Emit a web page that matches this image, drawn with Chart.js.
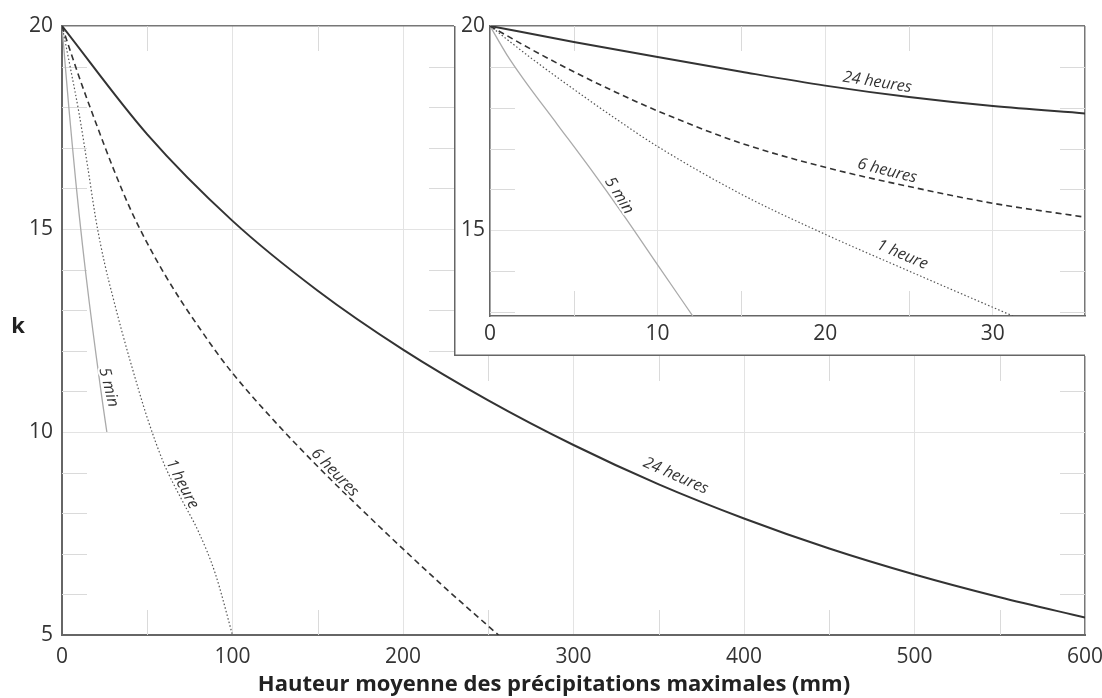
<!DOCTYPE html>
<html><head><meta charset="utf-8">
<script src="https://cdn.jsdelivr.net/npm/chart.js@4.4.1/dist/chart.umd.min.js"></script>
<style>
html,body{margin:0;padding:0;background:#fff;}
#wrap{position:relative;width:1102px;height:698px;overflow:hidden;}
#main{position:absolute;left:0;top:0;}
#inset{position:absolute;left:454px;top:0;}
</style></head><body>
<div id="wrap">
<canvas id="main" width="1102" height="698"></canvas>
<canvas id="inset" width="648" height="356"></canvas>
</div>
<script>
// ---------- Main chart data ----------
const main24X = [0,50,100,150,200,250,300,350,400,450,500,550,600];
const main24K = [20,17.33,15.2,13.48,12.03,10.78,9.68,8.71,7.87,7.13,6.49,5.93,5.43];
const main6X  = [0,10,20,30,40,50,60,70,80,90,100,125,150,175,200,225,250,256];
const main6K  = [20,18.75,17.6,16.5,15.5,14.65,13.9,13.22,12.6,12.0,11.45,10.25,9.15,8.12,7.12,6.15,5.22,5.0];
const main1X  = [0,5,10,15,20,25,30,35,40,50,60,70,80,90,100];
const main1K  = [20,18.95,17.85,16.55,15.2,14.15,13.3,12.5,11.75,10.35,9.2,8.35,7.55,6.5,5.0];
const main5X  = [0,2,4,6,8,10,12,14,16,18,20,22,24,26.3];
const main5K  = [20,18.98,18.0,17.08,16.2,15.38,14.61,13.88,13.19,12.53,11.89,11.27,10.66,10.0];
const mainXTicks = [0,100,200,300,400,500,600];
const mainYTicks = [5,10,15,20];

// ---------- Inset data ----------
const in24X = [0,5,10,15,20,25,30,35.5];
const in24K = [20,19.61,19.24,18.88,18.54,18.26,18.04,17.86];
const in6X  = [0,2.5,5,7.5,10,15,20,25,30,35.5];
const in6K  = [20,19.42,18.88,18.38,17.92,17.13,16.54,16.07,15.66,15.32];
const in1X  = [0,2.5,5,7.5,10,15,20,25,31.2];
const in1K  = [20,19.2,18.45,17.73,17.05,15.88,14.9,14.0,12.9];
const in5X  = [0,1,2,4,6,8,10,12.1];
const in5K  = [20,19.3,18.7,17.6,16.5,15.35,14.15,12.9];
const inXTicks = [0,10,20,30];
const inYTicks = [15,20];

const seriesNames = ['24 heures','6 heures','1 heure','5 min'];
const xTitle = 'Hauteur moyenne des précipitations maximales (mm)';
const yTitle = 'k';

Chart.defaults.font.family = "'Open Sans', 'Noto Sans', sans-serif";
Chart.defaults.color = '#333';

function pts(xs, ks){ return xs.map((x,i)=>({x:x, y:ks[i]})); }

const styles = [
  {borderColor:'#333', borderWidth:2, borderDash:[]},
  {borderColor:'#333', borderWidth:1.6, borderDash:[6,4]},
  {borderColor:'#555', borderWidth:1.2, borderDash:[1.5,2.2]},
  {borderColor:'#aaa', borderWidth:1.3, borderDash:[]}
];
function makeDatasets(list){
  return list.map((d,i)=>Object.assign({
    label: seriesNames[i], data: pts(d[0], d[1]),
    pointRadius:0, fill:false, cubicInterpolationMode:'monotone'
  }, styles[i]));
}

const GRID = '#e3e3e3', EDGE = '#777', MINOR = '#dadada';

function drawLabels(chart, labels){
  const ctx = chart.ctx, xs = chart.scales.x, ys = chart.scales.y;
  ctx.save();
  ctx.font = 'italic 16px "Open Sans"';
  ctx.textAlign = 'center'; ctx.textBaseline = 'middle';
  ctx.lineJoin = 'round';
  labels.forEach(l=>{
    const px = xs.getPixelForValue(l.x), py = ys.getPixelForValue(l.k);
    ctx.save(); ctx.translate(px, py); ctx.rotate(l.a*Math.PI/180);
    ctx.strokeStyle = '#fff'; ctx.lineWidth = 4; ctx.strokeText(l.t, 0, 0);
    ctx.fillStyle = '#333'; ctx.fillText(l.t, 0, 0); ctx.restore();
  });
  ctx.restore();
}

// label anchors (data coordinates) and rotation in degrees
const mainLabels = [
  {t:seriesNames[0], x:360, k:8.92, a:24},
  {t:seriesNames[1], x:160, k:9.0, a:46},
  {t:seriesNames[2], x:70.5, k:8.72, a:63},
  {t:seriesNames[3], x:27.3, k:11.1, a:76}
];
const insetLabels = [
  {t:seriesNames[0], x:23.1, k:18.62, a:9},
  {t:seriesNames[1], x:23.7, k:16.45, a:14},
  {t:seriesNames[2], x:24.6, k:14.4, a:23},
  {t:seriesNames[3], x:7.7, k:15.85, a:58}
];

const mainPlugin = {
  id:'mainDeco',
  beforeDatasetsDraw(chart){
    const ctx = chart.ctx, a = chart.chartArea, xs = chart.scales.x, ys = chart.scales.y;
    ctx.save(); ctx.strokeStyle = MINOR; ctx.lineWidth = 1;
    ctx.beginPath();
    for (let k=6;k<20;k++){ if (k%5===0) continue;
      const y = Math.round(ys.getPixelForValue(k))+0.5;
      ctx.moveTo(a.left, y); ctx.lineTo(a.left+25, y);
      ctx.moveTo(a.right-25, y); ctx.lineTo(a.right, y);
      if (y < 355){ ctx.moveTo(429, y); ctx.lineTo(454, y); }
    }
    for (let v=50; v<600; v+=100){
      const x = Math.round(xs.getPixelForValue(v))+0.5;
      ctx.moveTo(x, a.bottom-25); ctx.lineTo(x, a.bottom);
      ctx.moveTo(x, a.top); ctx.lineTo(x, a.top+25);
      if (x > 454){ ctx.moveTo(x, 356); ctx.lineTo(x, 381); }
    }
    ctx.stroke(); ctx.restore();
  },
  afterDraw(chart){
    const ctx = chart.ctx;
    drawLabels(chart, mainLabels);
    ctx.save(); ctx.fillStyle = '#222';
    ctx.textAlign = 'center'; ctx.textBaseline = 'middle';
    ctx.font = 'bold 22px "Open Sans"';
    ctx.fillText(xTitle, 554, 685);
    ctx.font = 'bold 22px "Open Sans"';
    ctx.fillText(yTitle, 18, 327);
    ctx.restore();
  }
};

const insetPlugin = {
  id:'insetDeco',
  beforeDraw(chart){
    const ctx = chart.ctx;
    ctx.save(); ctx.fillStyle = '#fff'; ctx.fillRect(0,0,chart.width,chart.height); ctx.restore();
  },
  beforeDatasetsDraw(chart){
    const ctx = chart.ctx, a = chart.chartArea, xs = chart.scales.x, ys = chart.scales.y;
    ctx.save(); ctx.strokeStyle = MINOR; ctx.lineWidth = 1;
    ctx.beginPath();
    for (let k=13;k<20;k++){ if (k%5===0) continue;
      const y = Math.round(ys.getPixelForValue(k))+0.5;
      ctx.moveTo(a.left, y); ctx.lineTo(a.left+25, y);
      ctx.moveTo(a.right-25, y); ctx.lineTo(a.right, y);
    }
    for (let v=5; v<35; v+=10){
      const x = Math.round(xs.getPixelForValue(v))+0.5;
      ctx.moveTo(x, a.bottom-25); ctx.lineTo(x, a.bottom);
      ctx.moveTo(x, a.top); ctx.lineTo(x, a.top+25);
    }
    ctx.stroke(); ctx.restore();
  },
  afterDraw(chart){
    const ctx = chart.ctx, a = chart.chartArea;
    drawLabels(chart, insetLabels);
    ctx.save(); ctx.strokeStyle = '#666'; ctx.lineWidth = 1.5;
    ctx.beginPath();
    ctx.moveTo(0.75, a.top); ctx.lineTo(0.75, 355.25); ctx.lineTo(a.right, 355.25);
    ctx.stroke(); ctx.restore();
  }
};

function gridColor(maxV){ return c => (c.tick && c.tick.value === maxV) ? EDGE : GRID; }
function gridWidth(maxV){ return c => (c.tick && c.tick.value === maxV) ? 1.5 : 1; }

new Chart(document.getElementById('main'), {
  type:'line',
  data:{ datasets: makeDatasets([[main24X,main24K],[main6X,main6K],[main1X,main1K],[main5X,main5K]]) },
  options:{
    responsive:false, animation:false,
    layout:{ padding:{ top:26, right:17, left:0, bottom:0 } },
    plugins:{ legend:{display:false}, tooltip:{enabled:false} },
    scales:{
      x:{ type:'linear', min:0, max:600,
        afterBuildTicks: s => { s.ticks = mainXTicks.map(v=>({value:v})); },
        afterFit: s => { s.height = 63; s.paddingLeft = 0; s.paddingRight = 0; },
        ticks:{ autoSkip:false, maxRotation:0, padding:9, font:{size:21}, color:'#333' },
        grid:{ drawTicks:false, color:gridColor(600), lineWidth:gridWidth(600) },
        border:{ color:'#666', width:2 } },
      y:{ type:'linear', min:5, max:20,
        afterBuildTicks: s => { s.ticks = mainYTicks.map(v=>({value:v})); },
        afterFit: s => { s.width = 62; },
        ticks:{ padding:9, font:{size:21}, color:'#333' },
        grid:{ drawTicks:false, color:gridColor(20), lineWidth:gridWidth(20) },
        border:{ color:'#666', width:2 } }
    }
  },
  plugins:[mainPlugin]
});

new Chart(document.getElementById('inset'), {
  type:'line',
  data:{ datasets: makeDatasets([[in24X,in24K],[in6X,in6K],[in1X,in1K],[in5X,in5K]]) },
  options:{
    responsive:false, animation:false,
    layout:{ padding:{ top:26, right:17, left:0, bottom:0 } },
    plugins:{ legend:{display:false}, tooltip:{enabled:false} },
    scales:{
      x:{ type:'linear', min:0, max:35.5,
        afterBuildTicks: s => { s.ticks = inXTicks.concat([35.5]).map(v=>({value:v})); },
        afterFit: s => { s.height = 40; s.paddingLeft = 0; s.paddingRight = 0; },
        ticks:{ autoSkip:false, maxRotation:0, padding:5, font:{size:21}, color:'#333',
          callback: v => inXTicks.includes(v) ? String(v) : '' },
        grid:{ drawTicks:false, color:gridColor(35.5), lineWidth:gridWidth(35.5) },
        border:{ color:'#666', width:1.5 } },
      y:{ type:'linear', min:12.9, max:20,
        afterBuildTicks: s => { s.ticks = inYTicks.map(v=>({value:v})); },
        afterFit: s => { s.width = 36; },
        ticks:{ padding:5, font:{size:21}, color:'#333' },
        grid:{ drawTicks:false, color:gridColor(20), lineWidth:gridWidth(20) },
        border:{ color:'#666', width:1.5 } }
    }
  },
  plugins:[insetPlugin]
});
</script>
</body></html>
